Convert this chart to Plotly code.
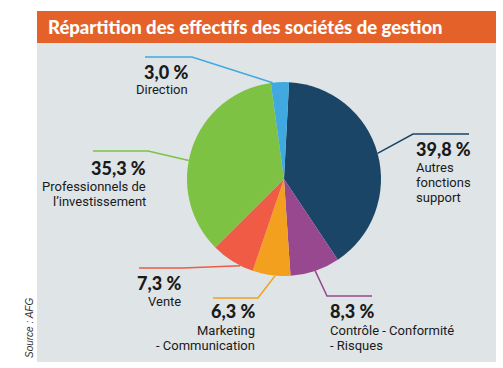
import math
import plotly.graph_objects as go

# ---- data ----
categories = ["Autres fonctions support", "Contrôle - Conformité - Risques",
              "Marketing - Communication", "Vente",
              "Professionnels de l'investissement", "Direction"]
label_lines = [["Autres", "fonctions", "support"], ["Contrôle - Conformité", "- Risques"],
               ["Marketing", "- Communication"], ["Vente"],
               ["Professionnels de", "l’investissement"], ["Direction"]]
shares = [39.8, 8.3, 6.3, 7.3, 35.3, 3.0]
colors = ["#1b4566", "#97488f", "#f2a01e", "#ef5b45", "#7dc242", "#3fa9e0"]
title_text = "Répartition des effectifs des sociétés de gestion"
source_text = "Source : AFG"

# ---- layout config (pixels) ----
W, H = 503, 368
CX, CY, R = 284, 179, 97
ROT = 3
LINE_GAP = 15.5
# per label: anchor fraction in slice, elbow, end, text x, align, number y, first text line y
label_cfg = [
    dict(frac=0.5, elbow=(413, 134), end=(469, 134), tx=414, align="left", ny=149, ty=167),
    dict(frac=0.5, elbow=(327, 296), end=(372, 296), tx=328, align="left", ny=311, ty=330),
    dict(frac=0.4, elbow=(258, 298), end=(213, 298), tx=257, align="right", ny=311, ty=330),
    dict(frac=0.3, elbow=(183, 268), end=(139, 268), tx=183, align="right", ny=283, ty=301),
    dict(frac=0.44, elbow=(148, 151), end=(93, 151), tx=148, align="right", ny=168, ty=186),
    dict(frac=0.1, elbow=(192, 57), end=(145, 57), tx=190, align="right", ny=72, ty=90),
]


def px(x):
    return x / W


def py(y):
    return 1 - y / H


fig = go.Figure()
fig.add_trace(go.Pie(
    labels=categories, values=shares, sort=False, direction="clockwise",
    rotation=ROT, marker=dict(colors=colors, line=dict(width=0)),
    textinfo="none", hoverinfo="label+percent", showlegend=False,
    domain=dict(x=[px(CX - R), px(CX + R)], y=[py(CY + R), py(CY - R)]),
))

shapes = [
    dict(type="rect", xref="paper", yref="paper", x0=px(37), x1=px(496), y0=py(362), y1=py(43),
         fillcolor="#dfe4e7", line=dict(width=0), layer="below"),
    dict(type="rect", xref="paper", yref="paper", x0=px(37), x1=px(496), y0=py(43), y1=py(11),
         fillcolor="#e4622a", line=dict(width=0), layer="below"),
]
annotations = [
    dict(text=title_text, xref="paper", yref="paper", x=px(46), y=py(27), xanchor="left",
         yanchor="middle", showarrow=False,
         font=dict(family="Lato", size=18.5, color="white", weight=900)),
    dict(text=f"<i>{source_text}</i>", xref="paper", yref="paper", x=px(29), y=py(328),
         xanchor="center", yanchor="middle", showarrow=False, textangle=-90,
         font=dict(family="Liberation Sans Narrow, Liberation Sans", size=10, color="#333")),
]

total = sum(shares)
cum = 0.0
for v, lines, col, cfg in zip(shares, label_lines, colors, label_cfg):
    a0 = ROT + cum / total * 360
    a1 = ROT + (cum + v) / total * 360
    cum += v
    ang = math.radians(a0 + cfg["frac"] * (a1 - a0))
    sx = CX + R * math.sin(ang)
    sy = CY - R * math.cos(ang)
    ex, ey = cfg["elbow"]
    fx, fy = cfg["end"]
    shapes.append(dict(type="path", xref="paper", yref="paper",
                       path=f"M {px(sx)},{py(sy)} L {px(ex)},{py(ey)} L {px(fx)},{py(fy)}",
                       line=dict(color=col, width=1.5)))
    num = f"{v:.1f}".replace(".", ",") + " %"
    annotations.append(dict(text=num, xref="paper", yref="paper", x=px(cfg["tx"]), y=py(cfg["ny"]),
                            xanchor=cfg["align"], yanchor="middle", showarrow=False,
                            font=dict(family="Lato", size=18, color="#1a1a1a", weight=900)))
    for i, line in enumerate(lines):
        annotations.append(dict(text=line, xref="paper", yref="paper", x=px(cfg["tx"]),
                                y=py(cfg["ty"] + i * LINE_GAP),
                                xanchor=cfg["align"], yanchor="middle", showarrow=False,
                                font=dict(family="Roboto", size=13, color="#1a1a1a")))

fig.update_layout(width=W, height=H, margin=dict(l=0, r=0, t=0, b=0),
                  paper_bgcolor="white", plot_bgcolor="white",
                  shapes=shapes, annotations=annotations)
fig.write_html("out.html", config={"displayModeBar": False},
               post_script="document.body.style.margin='0';")
